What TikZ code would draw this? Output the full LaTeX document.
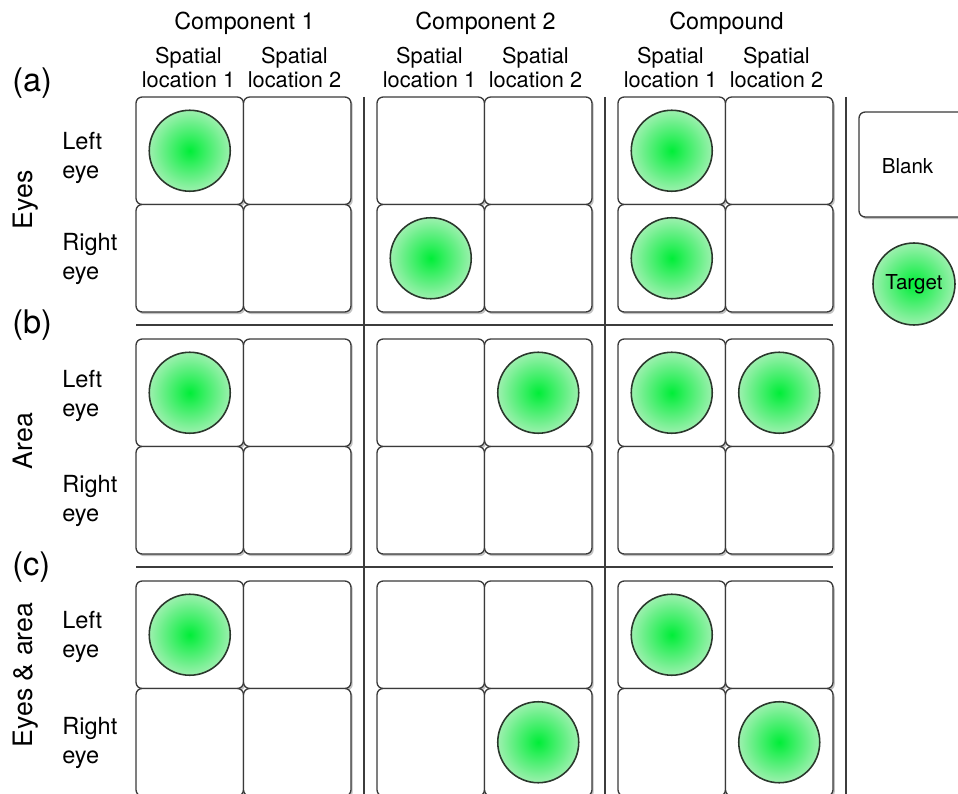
\documentclass[tikz,border=0pt]{standalone}
\usepackage{fontspec}
\setmainfont{TeX Gyre Heros}
\usetikzlibrary{positioning, shadows}

\definecolor{cellgray}{HTML}{3A3A3A}
\definecolor{linegray}{HTML}{3C3C3C}
\definecolor{ringgray}{HTML}{2A382C}
\definecolor{targetin}{HTML}{00EE38}
\definecolor{targetout}{HTML}{9CF0AE}

\begin{document}
\begin{tikzpicture}[x=0.02cm, y=-0.02cm,
    cellbox/.style={draw=cellgray, line width=0.75pt, rounded corners=3.5pt, fill=white,
        minimum size=2.15cm, inner sep=0pt,
        drop shadow={shadow xshift=1pt, shadow yshift=-1.2pt, fill=black!60, opacity=0.4}},
    target/.style={circle, draw=ringgray, line width=0.9pt, minimum size=1.62cm, inner sep=0pt,
        shading=radial, inner color=targetin, outer color=targetout},
    sepline/.style={draw=linegray, line width=0.9pt},
    colhead/.style={anchor=base, inner sep=0pt, font=\fontsize{13.3}{15}\selectfont},
    subhead/.style={anchor=south, inner sep=0pt, align=center, font=\fontsize{12.4}{13.4}\selectfont},
    rowlab/.style={anchor=west, inner sep=0pt, align=left, font=\fontsize{13.4}{16.5}\selectfont},
    panel/.style={anchor=west, inner sep=0pt, font=\fontsize{18.5}{20}\selectfont},
    sidelab/.style={anchor=base, rotate=90, inner sep=0pt, font=\fontsize{15.2}{18}\selectfont},
    legtext/.style={inner sep=0pt, font=\fontsize{11.7}{14}\selectfont}]

    \useasboundingbox (0,0) rectangle (958,794);
    \clip (0,0) rectangle (958,794);

    % separators between panels
    \foreach \x in {364, 605, 846}
        \draw[sepline] (\x, 97) -- (\x, 800);
    \foreach \y in {325, 567}
        \draw[sepline] (136, \y) -- (833, \y);

    % 3 x 3 blocks of 2 x 2 cells
    \foreach \r in {0,1,2}
        \foreach \c in {0,1,2}
            \foreach \i in {0,1}
                \foreach \j in {0,1}
                    \node[cellbox] (cell-\r-\c-\i-\j) at ({189.75+241*\c+107.5*\j}, {150.75+242*\r+107.5*\i}) {};

    % targets (panel-block-row-column)
    \foreach \t in {0-0-0-0, 0-1-1-0, 0-2-0-0, 0-2-1-0,
                    1-0-0-0, 1-1-0-1, 1-2-0-0, 1-2-0-1,
                    2-0-0-0, 2-1-1-1, 2-2-0-0, 2-2-1-1}
        \node[target] (dot-\t) at (cell-\t) {};

    % column headings
    \foreach \name [count=\c from 0] in {Component 1, Component 2, Compound}
        \node[colhead] (head-\c) at ({244.5+241*\c}, 30) {\name};
    \foreach \c in {0,1,2}
        \foreach \j in {1,2}
            \node[subhead] (sub-\c-\j) at ({188.5+241*\c+106*(\j-1)}, 88) {Spatial\\location \j};

    % row headings
    \foreach \r/\dy in {0/7, 1/3, 2/2} {
        \node[rowlab] (left-\r) at (62, {150.75+242*\r+\dy}) {Left\\eye};
        \node[rowlab] (right-\r) at (62, {258.25+242*\r+1}) {Right\\eye};
    }
    \node[panel] (pa) at (12, 83) {(a)};
    \node[panel] (pb) at (12, 325) {(b)};
    \node[panel] (pc) at (12, 567) {(c)};
    \node[sidelab] (side-a) at (32.5, 200) {Eyes};
    \node[sidelab] (side-b) at (32.5, 441) {Area};
    \node[sidelab] (side-c) at (32.5, 675) {Eyes \& area};

    % legend
    \node[cellbox, minimum width=3cm, minimum height=2.1cm] (blank) at (934, 164.5) {};
    \node[legtext] (blank-lab) at (907.5, 166) {Blank};
    \node[target, minimum size=1.64cm, legtext] (leg-target) at (914, 284) {Target};
\end{tikzpicture}
\end{document}
